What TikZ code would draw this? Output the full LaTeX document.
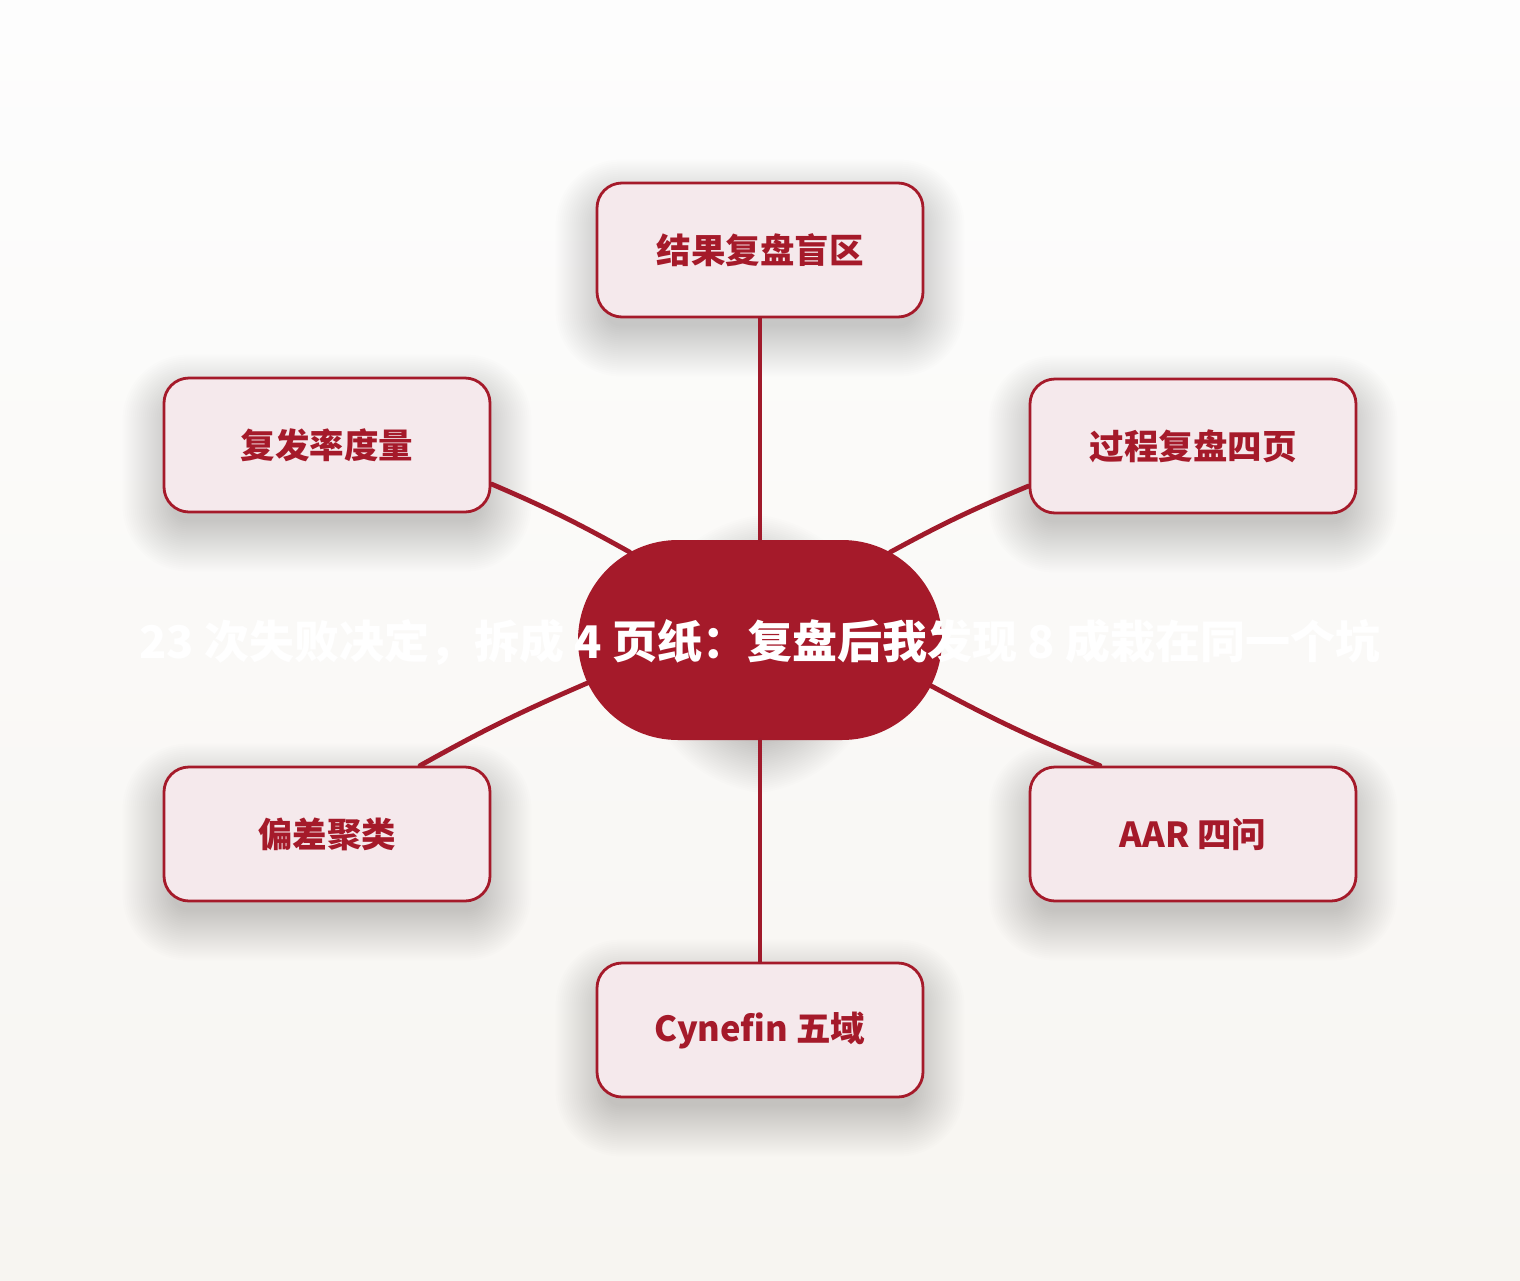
\documentclass[tikz,border=0pt]{standalone}
\usepackage{fontspec}
\setmainfont{Noto Sans CJK SC}
\usetikzlibrary{shapes.misc,calc}
\pgfdeclarelayer{bgl}
\pgfdeclarelayer{shadowl}
\pgfsetlayers{bgl,shadowl,main}
\definecolor{bgtop}{HTML}{FDFDFD}
\definecolor{bgbot}{HTML}{F7F5F1}
\definecolor{deepred}{HTML}{A51A2A}
\definecolor{linered}{HTML}{A01A2B}
\definecolor{boxfill}{HTML}{F5E9EC}
\tikzset{
  leafbox/.style={rectangle,rounded corners=25pt,minimum width=326pt,minimum height=134pt,
    draw=deepred,line width=2.8pt,fill=boxfill,
    text=deepred,font=\bfseries\fontsize{34.5}{40}\selectfont,inner sep=0pt},
  hubpill/.style={rounded rectangle,minimum width=364pt,minimum height=200pt,fill=deepred,
    inner sep=0pt},
  hubtext/.style={text=white,font=\bfseries\fontsize{45}{52}\selectfont,inner sep=0pt},
  link/.style={draw=linered,line width=4.8pt,line cap=round},
  shadowstep/.style={fill=black,opacity=0.0075}
}
\newcommand\dropshade[3]{%
  \foreach \s in {-10,-8,...,40} {
    \pgfmathsetmacro\rr{max(#2+\s,1)}
    \fill[shadowstep,rounded corners=\rr pt]
      ($(#1.north west)+(-\s,-\s+#3)$) rectangle ($(#1.south east)+(\s,\s+#3)$);
  }%
}
\begin{document}
\begin{tikzpicture}[x=1pt,y=-1pt]
\useasboundingbox (0,0) rectangle (1520,1280);
% leaves
\node[leafbox] (t)  at (760,250)  {\raisebox{-3pt}{结果复盘盲区}};
\node[leafbox] (ul) at (327,445)  {\raisebox{-3pt}{复发率度量}};
\node[leafbox] (ur) at (1193,446) {\raisebox{-3pt}{过程复盘四页}};
\node[leafbox] (ll) at (327,834)  {\raisebox{-3pt}{偏差聚类}};
\node[leafbox] (lr) at (1193,834) {\raisebox{-3pt}{AAR 四问}};
\node[leafbox] (b)  at (760,1030) {\raisebox{-3pt}{Cynefin 五域}};
% hub
\node[hubpill] (c) at (760,640) {};
% connectors
\draw[link] (t.south) -- (c.north);
\draw[link] (c.south) -- (b.north);
\draw[link] ($(ul.east)+(0,39)$) to[bend left=3] (c.146);
\draw[link] ($(ur.west)+(0,40)$) to[bend right=3] (c.34);
\draw[link] ($(ll.north)+(93,0)$) to[bend left=3] (c.194);
\draw[link] ($(lr.north)+(-93,0)$) to[bend left=3] (c.345);
\node[hubtext] (ct) at (760,642) {23 次失败决定，拆成 4 页纸：复盘后我发现 8 成栽在同一个坑};
% shadows
\begin{pgfonlayer}{shadowl}
  \dropshade{t}{25}{18}
  \dropshade{ul}{25}{18}
  \dropshade{ur}{25}{18}
  \dropshade{ll}{25}{18}
  \dropshade{lr}{25}{18}
  \dropshade{b}{25}{18}
  \dropshade{c}{100}{14}
\end{pgfonlayer}
\begin{pgfonlayer}{bgl}
  \shade[top color=bgtop,bottom color=bgbot] (0,0) rectangle (1520,1280);
\end{pgfonlayer}
\end{tikzpicture}
\end{document}
